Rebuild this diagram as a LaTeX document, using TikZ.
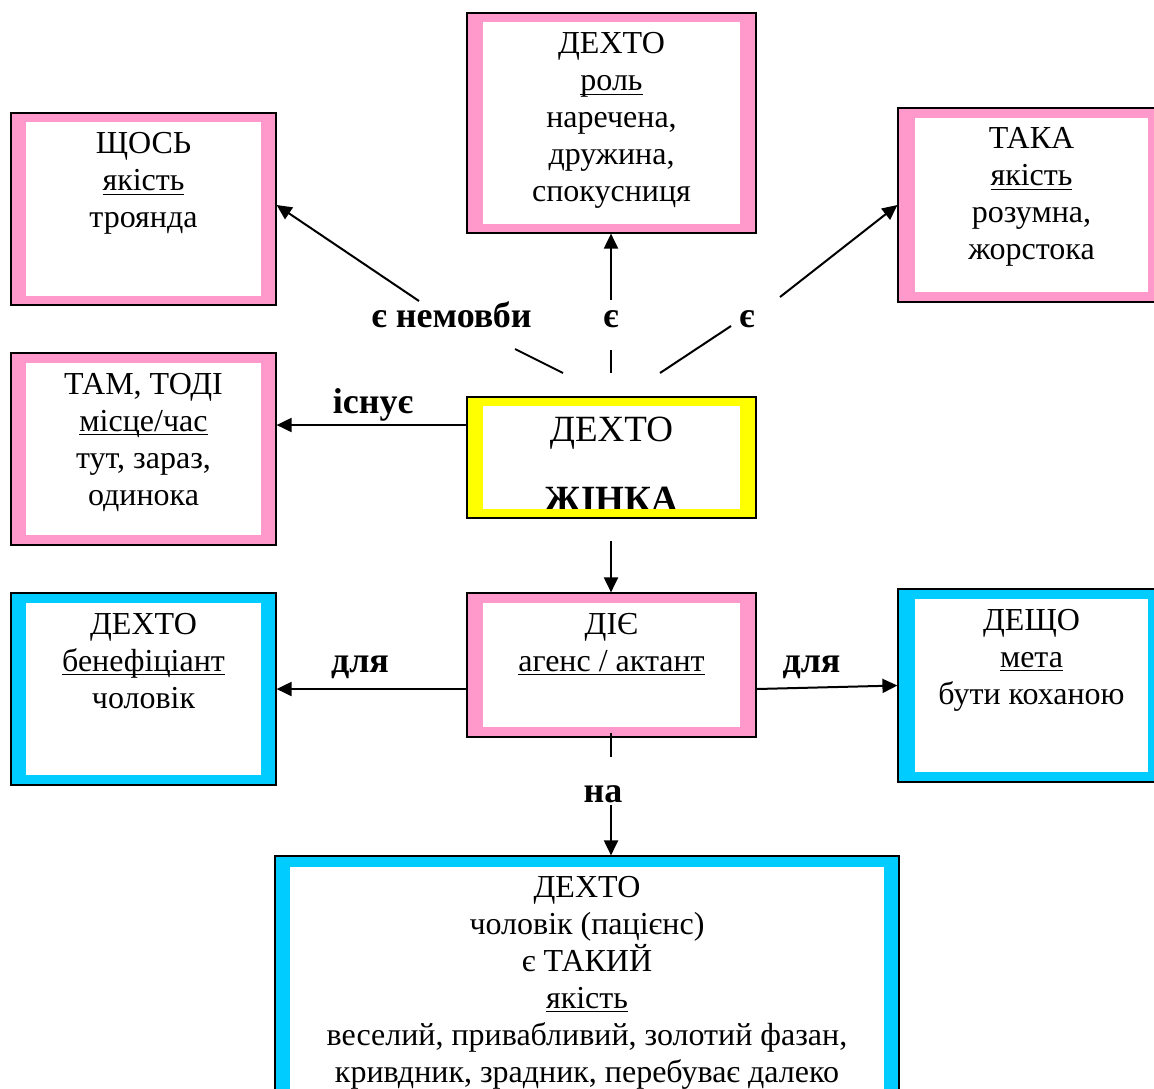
\documentclass[tikz,border=0pt]{standalone}
\usepackage{fontspec}
\setmainfont{Liberation Serif}
\usetikzlibrary{arrows.meta,fit,calc}

\definecolor{rosefill}{HTML}{FF99CC}
\definecolor{skyfill}{HTML}{00CCFF}
\definecolor{sunfill}{HTML}{FFFF00}

% underline drawn at a fixed depth, crossing descenders
\newcommand\ulin[1]{\leavevmode\setbox0\hbox{#1}\rlap{\rule[-2.2pt]{\wd0}{0.65pt}}\box0}

\tikzset{
  frame/.style={draw=black, line width=0.6pt, fill=#1, inner sep=0pt},
  body/.style={align=center, inner sep=0pt, anchor=north, font=\fontsize{16}{18.5}\selectfont},
  tag/.style={font=\fontsize{18}{20}\selectfont\bfseries, inner sep=0pt, anchor=base},
  link/.style={line width=1pt},
  arr/.style={link, -{Triangle[length=7.5pt,width=7pt]}},
}

% framed panel: coloured band between a black border and a white inner field
\newcommand\panel[6]{%
  \node[frame=#2, fit={(#3) (#4)}] (#1) {};
  \coordinate (#1-in-nw) at ($(#1.north west)+(#5,#6)$);
  \coordinate (#1-in-se) at ($(#1.south east)-(#5,#6)$);
  \fill[white] (#1-in-nw) rectangle (#1-in-se);
}

\begin{document}
\begin{tikzpicture}[x=0.5pt,y=-0.5pt]
\useasboundingbox (0,0) rectangle (1154,1088);
\clip (0,0) rectangle (1154,1088);

% panels
\panel{role}{rosefill}{467,13}{756,233}{17}{10}
\panel{shchos}{rosefill}{11,113}{276,305}{16}{10}
\panel{taka}{rosefill}{898,108}{1165,302}{18}{11}
\panel{tam}{rosefill}{11,353}{276,545}{16}{11}
\panel{zhinka}{sunfill}{467,397}{756,518}{17}{10}
\panel{diie}{rosefill}{467,593}{756,737}{17}{11}
\panel{benef}{skyfill}{11,593}{276,785}{16}{11}
\panel{deshcho}{skyfill}{898,589}{1165,782}{18}{11}
\panel{patiens}{skyfill}{275,856}{899,1230}{16}{12}

% panel texts
\node[body] (role-text) at ([yshift=-10pt]role.north)
  {ДЕХТО\\\ulin{роль}\\наречена,\\дружина,\\спокусниця};
\node[body] (shchos-text) at ([yshift=-10pt]shchos.north)
  {ЩОСЬ\\\ulin{якість}\\троянда};
\node[body] (taka-text) at ([yshift=-10pt]taka.north)
  {ТАКА\\\ulin{якість}\\розумна,\\жорстока};
\node[body] (tam-text) at ([yshift=-10pt]tam.north)
  {ТАМ, ТОДІ\\\ulin{місце/час}\\тут, зараз,\\одинока};
\begin{scope}
  \clip (zhinka-in-nw) rectangle (zhinka-in-se);
  \node[body, font=\fontsize{18.5}{21.3}\selectfont] (zhinka-text) at ([yshift=-10pt]zhinka.north)
    {ДЕХТО\\[13.7pt]{\bfseries ЖІНКА}};
\end{scope}
\node[body] (diie-text) at ([yshift=-10pt]diie.north)
  {ДІЄ\\\ulin{агенс / актант}};
\node[body] (benef-text) at ([yshift=-10pt]benef.north)
  {ДЕХТО\\\ulin{бенефіціант}\\чоловік};
\node[body] (deshcho-text) at ([yshift=-10pt]deshcho.north)
  {ДЕЩО\\\ulin{мета}\\бути коханою};
\begin{scope}
  \clip (patiens-in-nw) rectangle (patiens-in-se);
  \node[body] (patiens-text) at ([yshift=-10pt]patiens.north)
    {ДЕХТО\\чоловік (пацієнс)\\є ТАКИЙ\\\ulin{якість}\\веселий, привабливий, золотий фазан,\\кривдник, зрадник, перебуває далеко};
\end{scope}

% connector end points
\coordinate (asif-a) at (419,301);
\coordinate (asif-b) at (515,349);
\coordinate (asif-c) at (563,373);
\coordinate (is-a) at (611,300);
\coordinate (is-b) at (611,350);
\coordinate (is-c) at (611,373);
\coordinate (such-a) at (780,297);
\coordinate (such-b) at (731,326);
\coordinate (such-c) at (660,373);
\coordinate (exists-y) at (0,425);
\coordinate (acts-a) at (611,541);
\coordinate (on-a) at (611,733);
\coordinate (on-b) at (611,757);
\coordinate (on-c) at (611,805);

% connectors
\draw[arr] (asif-a) -- ([yshift=2pt]shchos.east);
\draw[link] (asif-b) -- (asif-c);
\draw[arr] (is-a) -- (is-a |- role.south);
\draw[link] (is-b) -- (is-c);
\draw[arr] (such-a) -- (taka.west);
\draw[link] (such-b) -- (such-c);
\draw[arr] (zhinka.west |- exists-y) -- (tam.east |- exists-y);
\draw[arr] (acts-a) -- (acts-a |- diie.north);
\draw[arr] (diie.west |- benef.east) -- (benef.east);
\draw[arr] (diie.east |- benef.east) -- (deshcho.west);
\draw[link] (on-a) -- (on-b);
\draw[arr] (on-c) -- (on-c |- patiens.north);

% connector labels
\node[tag] (lbl-asif) at (451.5,327) {є немовби};
\node[tag] (lbl-is) at (611,327) {є};
\node[tag] (lbl-such) at (747,327) {є};
\node[tag] (lbl-exists) at (373,413) {існує};
\node[tag] (lbl-for-l) at (360,672) {для};
\node[tag] (lbl-for-r) at (811.5,672) {для};
\node[tag] (lbl-on) at (603,802) {на};
\end{tikzpicture}
\end{document}
